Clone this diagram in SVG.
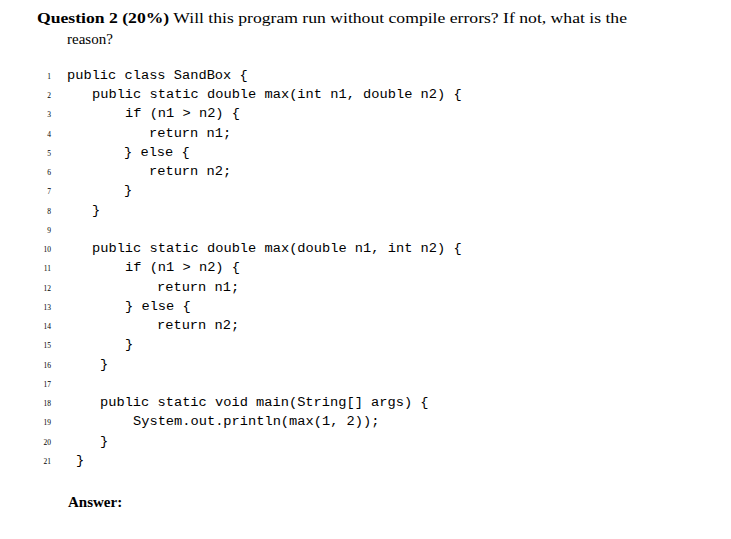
<svg xmlns="http://www.w3.org/2000/svg" width="731" height="539" viewBox="0 0 731 539">
<style>
.t{font-family:"Liberation Serif",serif;font-size:15px;fill:#000}
.b{font-weight:bold}
.c{font-family:"Liberation Mono",monospace;font-size:13.7px;fill:#000;white-space:pre}
.n{font-family:"Liberation Serif",serif;font-size:7.5px;fill:#000;text-anchor:end}
</style>
<rect width="731" height="539" fill="#fff"/>
<text class="t" x="37" y="23" textLength="590" lengthAdjust="spacingAndGlyphs"><tspan class="b">Question 2 (20%)</tspan> Will this program run without compile errors? If not, what is the</text>
<text class="t" x="67" y="44">reason?</text>
<g id="linenos">
<text class="n" x="51" y="79">1</text><text class="n" x="51" y="98">2</text><text class="n" x="51" y="117">3</text><text class="n" x="51" y="137">4</text><text class="n" x="51" y="156">5</text><text class="n" x="51" y="175">6</text><text class="n" x="51" y="194">7</text><text class="n" x="51" y="214">8</text><text class="n" x="51" y="233">9</text><text class="n" x="51" y="252">10</text><text class="n" x="51" y="271">11</text><text class="n" x="51" y="291">12</text><text class="n" x="51" y="310">13</text><text class="n" x="51" y="329">14</text><text class="n" x="51" y="348">15</text><text class="n" x="51" y="368">16</text><text class="n" x="51" y="387">17</text><text class="n" x="51" y="406">18</text><text class="n" x="51" y="425">19</text><text class="n" x="51" y="445">20</text><text class="n" x="51" y="464">21</text>
</g>
<g id="code">
<text class="c" x="67" y="79">public class SandBox {</text>
<text class="c" x="92" y="98">public static double max(int n1, double n2) {</text>
<text class="c" x="125" y="117">if (n1 &gt; n2) {</text>
<text class="c" x="149" y="137">return n1;</text>
<text class="c" x="124" y="156">} else {</text>
<text class="c" x="149" y="175">return n2;</text>
<text class="c" x="124" y="194">}</text>
<text class="c" x="92" y="214">}</text>
<text class="c" x="92" y="252">public static double max(double n1, int n2) {</text>
<text class="c" x="125" y="271">if (n1 &gt; n2) {</text>
<text class="c" x="157" y="291">return n1;</text>
<text class="c" x="125" y="310">} else {</text>
<text class="c" x="157" y="329">return n2;</text>
<text class="c" x="125" y="348">}</text>
<text class="c" x="100" y="368">}</text>
<text class="c" x="100" y="406">public static void main(String[] args) {</text>
<text class="c" x="133" y="425">System.out.println(max(1, 2));</text>
<text class="c" x="100" y="445">}</text>
<text class="c" x="76" y="464">}</text>
</g>
<text class="t b" x="68" y="507">Answer:</text>
</svg>
